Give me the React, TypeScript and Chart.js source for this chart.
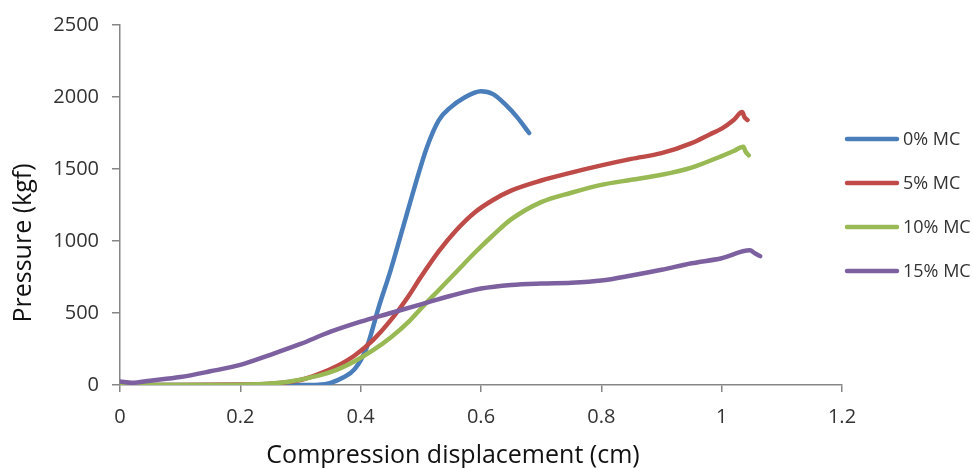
import React, { useEffect, useRef } from "react";
import { Chart, registerables } from "chart.js";

Chart.register(...registerables);

// ---- data ----
const seriesLabels = ["0% MC", "5% MC", "10% MC", "15% MC"];
const seriesColors = ["#4a7ebb", "#be4b48", "#98b954", "#7d60a0"];

const mc0X = [0, 0.1, 0.2, 0.3, 0.33, 0.35, 0.37, 0.39, 0.41, 0.43, 0.45, 0.47, 0.49, 0.51, 0.53, 0.55, 0.57, 0.6, 0.62, 0.64, 0.66, 0.68];
const mc0Y = [0, 0, 0, 0, 2, 15, 50, 110, 260, 540, 800, 1090, 1380, 1650, 1840, 1930, 1990, 2040, 2020, 1950, 1860, 1750];

const mc5X = [0, 0.1, 0.2, 0.25, 0.3, 0.33, 0.36, 0.39, 0.42, 0.45, 0.48, 0.5, 0.53, 0.56, 0.59, 0.62, 0.65, 0.7, 0.75, 0.8, 0.85, 0.9, 0.95, 0.98, 1.0, 1.02, 1.034, 1.038, 1.043];
const mc5Y = [0, 0, 3, 8, 35, 75, 130, 205, 310, 450, 620, 750, 930, 1080, 1200, 1285, 1350, 1420, 1475, 1525, 1570, 1610, 1680, 1740, 1780, 1840, 1895, 1860, 1840];

const mc10X = [0, 0.1, 0.2, 0.25, 0.28, 0.33, 0.36, 0.39, 0.42, 0.45, 0.48, 0.5, 0.53, 0.56, 0.59, 0.62, 0.65, 0.7, 0.75, 0.8, 0.85, 0.9, 0.95, 1.0, 1.02, 1.036, 1.04, 1.045];
const mc10Y = [0, 0, 2, 10, 23, 65, 105, 165, 240, 330, 440, 530, 660, 790, 920, 1040, 1150, 1270, 1335, 1390, 1425, 1460, 1510, 1590, 1625, 1655, 1620, 1595];

const mc15X = [0, 0.02, 0.05, 0.1, 0.15, 0.2, 0.25, 0.3, 0.35, 0.4, 0.45, 0.5, 0.55, 0.6, 0.65, 0.7, 0.75, 0.8, 0.85, 0.9, 0.95, 1.0, 1.047, 1.055, 1.064];
const mc15Y = [25, 15, 30, 55, 95, 140, 210, 285, 370, 440, 500, 560, 620, 670, 695, 705, 710, 725, 760, 800, 845, 880, 935, 915, 895];

const xTickLabels = ["0", "0.2", "0.4", "0.6", "0.8", "1", "1.2"];
const yTickLabels = ["0", "500", "1000", "1500", "2000", "2500"];
const xTitle = "Compression displacement (cm)";
const yTitle = "Pressure (kgf)";

const toPoints = (xs: number[], ys: number[]) => xs.map((x, i) => ({ x, y: ys[i] }));

const FONT = "'Open Sans', sans-serif";

const customPlugin = {
  id: "customDecor",
  afterDraw(chart: any) {
    const { ctx, chartArea } = chart;
    ctx.save();
    // legend
    const datasets = chart.data.datasets;
    const cy = (chartArea.top + chartArea.bottom) / 2;
    const spacing = 44;
    const n = datasets.length;
    datasets.forEach((ds: any, i: number) => {
      const y = cy + (i - (n - 1) / 2) * spacing;
      ctx.strokeStyle = ds.borderColor;
      ctx.lineWidth = 4.5;
      ctx.lineCap = "round";
      ctx.beginPath();
      ctx.moveTo(847, y);
      ctx.lineTo(897, y);
      ctx.stroke();
      ctx.fillStyle = "#333333";
      ctx.font = `18px ${FONT}`;
      ctx.textAlign = "left";
      ctx.textBaseline = "middle";
      ctx.fillText(ds.label, 903, y + 1);
    });
    // axis titles
    ctx.fillStyle = "#111111";
    ctx.font = `25px ${FONT}`;
    ctx.textAlign = "center";
    ctx.textBaseline = "alphabetic";
    ctx.fillText(xTitle, 453, 463);
    ctx.translate(31, 243);
    ctx.rotate(-Math.PI / 2);
    ctx.fillText(yTitle, 0, 0);
    ctx.restore();
  },
};

export default function App() {
  const ref = useRef<HTMLCanvasElement | null>(null);
  useEffect(() => {
    document.body.style.margin = "0";
    const canvas = ref.current;
    if (!canvas) return;
    const pts = [toPoints(mc0X, mc0Y), toPoints(mc5X, mc5Y), toPoints(mc10X, mc10Y), toPoints(mc15X, mc15Y)];
    const chart = new Chart(canvas, {
      type: "line",
      data: {
        datasets: pts.map((p, i) => ({
          label: seriesLabels[i],
          data: p,
          borderColor: seriesColors[i],
          backgroundColor: seriesColors[i],
          borderWidth: 4.5,
          pointRadius: 0,
          fill: false,
          cubicInterpolationMode: "monotone" as const,
          borderCapStyle: "round" as const,
          borderJoinStyle: "round" as const,
          order: 3 - i,
        })),
      },
      options: {
        animation: false,
        responsive: false,
        maintainAspectRatio: false,
        layout: { padding: { left: 0, right: 131, top: 21, bottom: 0 } },
        plugins: { legend: { display: false }, tooltip: { enabled: false }, title: { display: false } },
        scales: {
          x: {
            type: "linear",
            min: 0,
            max: 1.2,
            afterFit: (s: any) => {
              s.height = 83;
            },
            ticks: {
              stepSize: 0.2,
              padding: 13,
              color: "#333333",
              font: { family: FONT, size: 20 },
              callback: (_v: any, i: number) => xTickLabels[i],
              maxRotation: 0,
            },
            grid: { display: true, drawOnChartArea: false, drawTicks: true, tickLength: 7, color: "#868686", lineWidth: 1.5 },
            border: { display: true, color: "#868686", width: 1.5 },
          },
          y: {
            type: "linear",
            min: 0,
            max: 2500,
            afterFit: (s: any) => {
              s.width = 120;
            },
            ticks: {
              stepSize: 500,
              padding: 13,
              color: "#333333",
              font: { family: FONT, size: 20 },
              callback: (_v: any, i: number) => yTickLabels[i],
            },
            grid: { display: true, drawOnChartArea: false, drawTicks: true, tickLength: 8, color: "#868686", lineWidth: 1.5 },
            border: { display: true, color: "#868686", width: 1.5 },
          },
        },
      },
      plugins: [customPlugin],
    });
    return () => chart.destroy();
  }, []);
  return (
    <div style={{ position: "absolute", left: 0, top: 0, width: 973, height: 468, background: "#fff" }}>
      <canvas ref={ref} width={973} height={468} style={{ display: "block" }} />
    </div>
  );
}
